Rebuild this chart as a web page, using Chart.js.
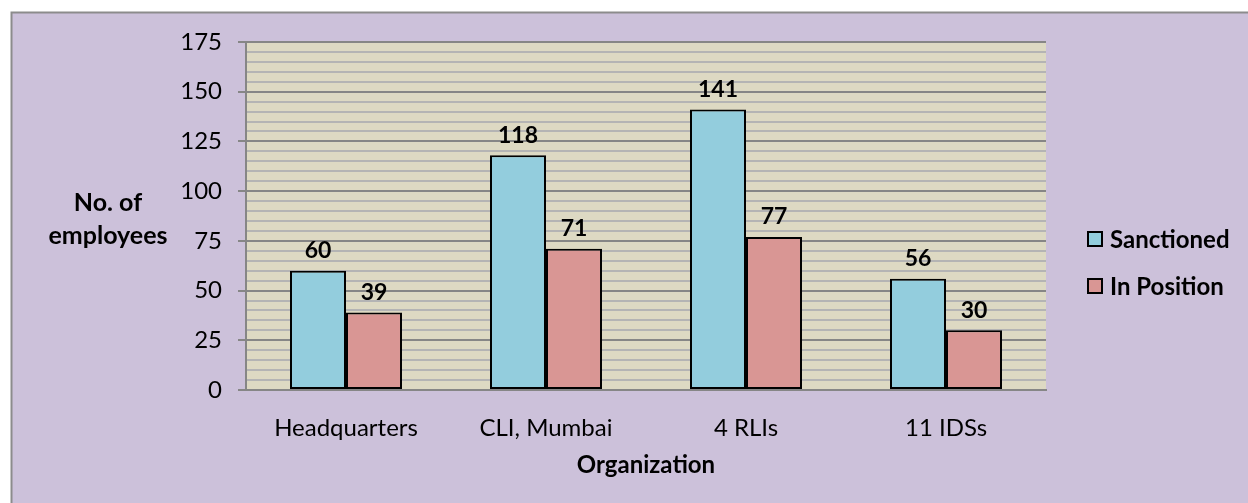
<!DOCTYPE html>
<html>
<head>
<meta charset="utf-8">
<script src="https://cdn.jsdelivr.net/npm/chart.js@4.4.0/dist/chart.umd.min.js"></script>
<style>
    html, body { margin: 0; padding: 0; background: #fff; }
    canvas { display: block; }
</style>
</head>
<body>
<canvas id="staff-chart" width="1248" height="503"></canvas>
<script>
const categories = ['Headquarters', 'CLI, Mumbai', '4 RLIs', '11 IDSs'];
const sanctioned = [60, 118, 141, 56];
const inPosition = [39, 71, 77, 30];
const yTitleLines = ['No. of', 'employees'];

const FONT = 'Lato';

// frame, plot background, y title, legend and value labels
const decorPlugin = {
    id: 'decor',
    beforeDraw(chart) {
        const { ctx, chartArea: a } = chart;
        ctx.save();
        ctx.fillStyle = '#ffffff';
        ctx.fillRect(0, 0, chart.width, chart.height);
        ctx.fillStyle = '#ccc1da';
        ctx.fillRect(11, 12, chart.width, chart.height);
        ctx.strokeStyle = '#8c8c8c';
        ctx.lineWidth = 2;
        ctx.beginPath();
        ctx.moveTo(11.5, chart.height + 5);
        ctx.lineTo(11.5, 12.5);
        ctx.lineTo(chart.width + 5, 12.5);
        ctx.stroke();
        ctx.fillStyle = '#ddd9c3';
        ctx.fillRect(a.left, a.top, a.right - a.left, a.bottom - a.top);
        ctx.restore();
    },
    afterDatasetsDraw(chart) {
        const { ctx } = chart;
        ctx.save();
        ctx.fillStyle = '#000';
        ctx.font = `bold 23px ${FONT}`;
        ctx.textAlign = 'center';
        ctx.textBaseline = 'middle';
        chart.data.datasets.forEach((ds, i) => {
            chart.getDatasetMeta(i).data.forEach((bar, j) => {
                ctx.fillText(ds.data[j], bar.x, bar.y - 20);
            });
        });
        ctx.restore();
    },
    afterDraw(chart) {
        const { ctx } = chart;
        ctx.save();
        ctx.fillStyle = '#000';
        ctx.font = `bold 25px ${FONT}`;
        ctx.textAlign = 'center';
        ctx.textBaseline = 'middle';
        yTitleLines.forEach((line, i) => ctx.fillText(line, 108, 203 + i * 33));

        ctx.font = `bold 24px ${FONT}`;
        ctx.textAlign = 'left';
        chart.data.datasets.forEach((ds, i) => {
            const y = 232 + i * 47;
            ctx.fillStyle = ds.backgroundColor;
            ctx.fillRect(1088, y, 14, 14);
            ctx.strokeStyle = '#000';
            ctx.lineWidth = 2;
            ctx.strokeRect(1088, y, 14, 14);
            ctx.fillStyle = '#000';
            ctx.fillText(ds.label, 1110, y + 8);
        });
        ctx.restore();
    }
};

const isMajor = v => v % 25 === 0;

new Chart(document.getElementById('staff-chart'), {
    type: 'bar',
    data: {
        labels: categories,
        datasets: [
            {
                label: 'Sanctioned',
                data: sanctioned,
                backgroundColor: '#93cddd',
                borderColor: '#000',
                borderWidth: 2,
                borderSkipped: false
            },
            {
                label: 'In Position',
                data: inPosition,
                backgroundColor: '#d99694',
                borderColor: '#000',
                borderWidth: 2,
                borderSkipped: false
            }
        ]
    },
    options: {
        responsive: false,
        animation: false,
        devicePixelRatio: 1,
        layout: { padding: { left: 146, top: 42, right: 202, bottom: 0 } },
        datasets: { bar: { categoryPercentage: 0.56, barPercentage: 1 } },
        plugins: {
            legend: { display: false },
            tooltip: { enabled: false }
        },
        scales: {
            x: {
                grid: { display: false },
                border: { display: true, color: '#868686', width: 2 },
                ticks: { color: '#000', font: { family: FONT, size: 24 }, padding: 16 },
                title: {
                    display: true,
                    text: 'Organization',
                    color: '#000',
                    font: { family: FONT, size: 24, weight: 'bold' },
                    padding: { top: 0, bottom: 23 }
                },
                afterFit(scale) { scale.height = 113; }
            },
            y: {
                min: 0,
                max: 175,
                ticks: {
                    stepSize: 5,
                    autoSkip: false,
                    color: '#000',
                    font: { family: FONT, size: 24 },
                    padding: 16,
                    callback: v => (isMajor(v) ? v : '')
                },
                grid: {
                    color: c => (isMajor(c.tick.value) ? '#868686' : '#b4b4b4'),
                    lineWidth: 2,
                    tickLength: 8,
                    tickColor: c => (isMajor(c.tick.value) ? '#868686' : 'rgba(0,0,0,0)')
                },
                border: { display: true, color: '#868686', width: 2 },
                afterFit(scale) { scale.width = 100; }
            }
        }
    },
    plugins: [decorPlugin]
});
</script>
</body>
</html>
